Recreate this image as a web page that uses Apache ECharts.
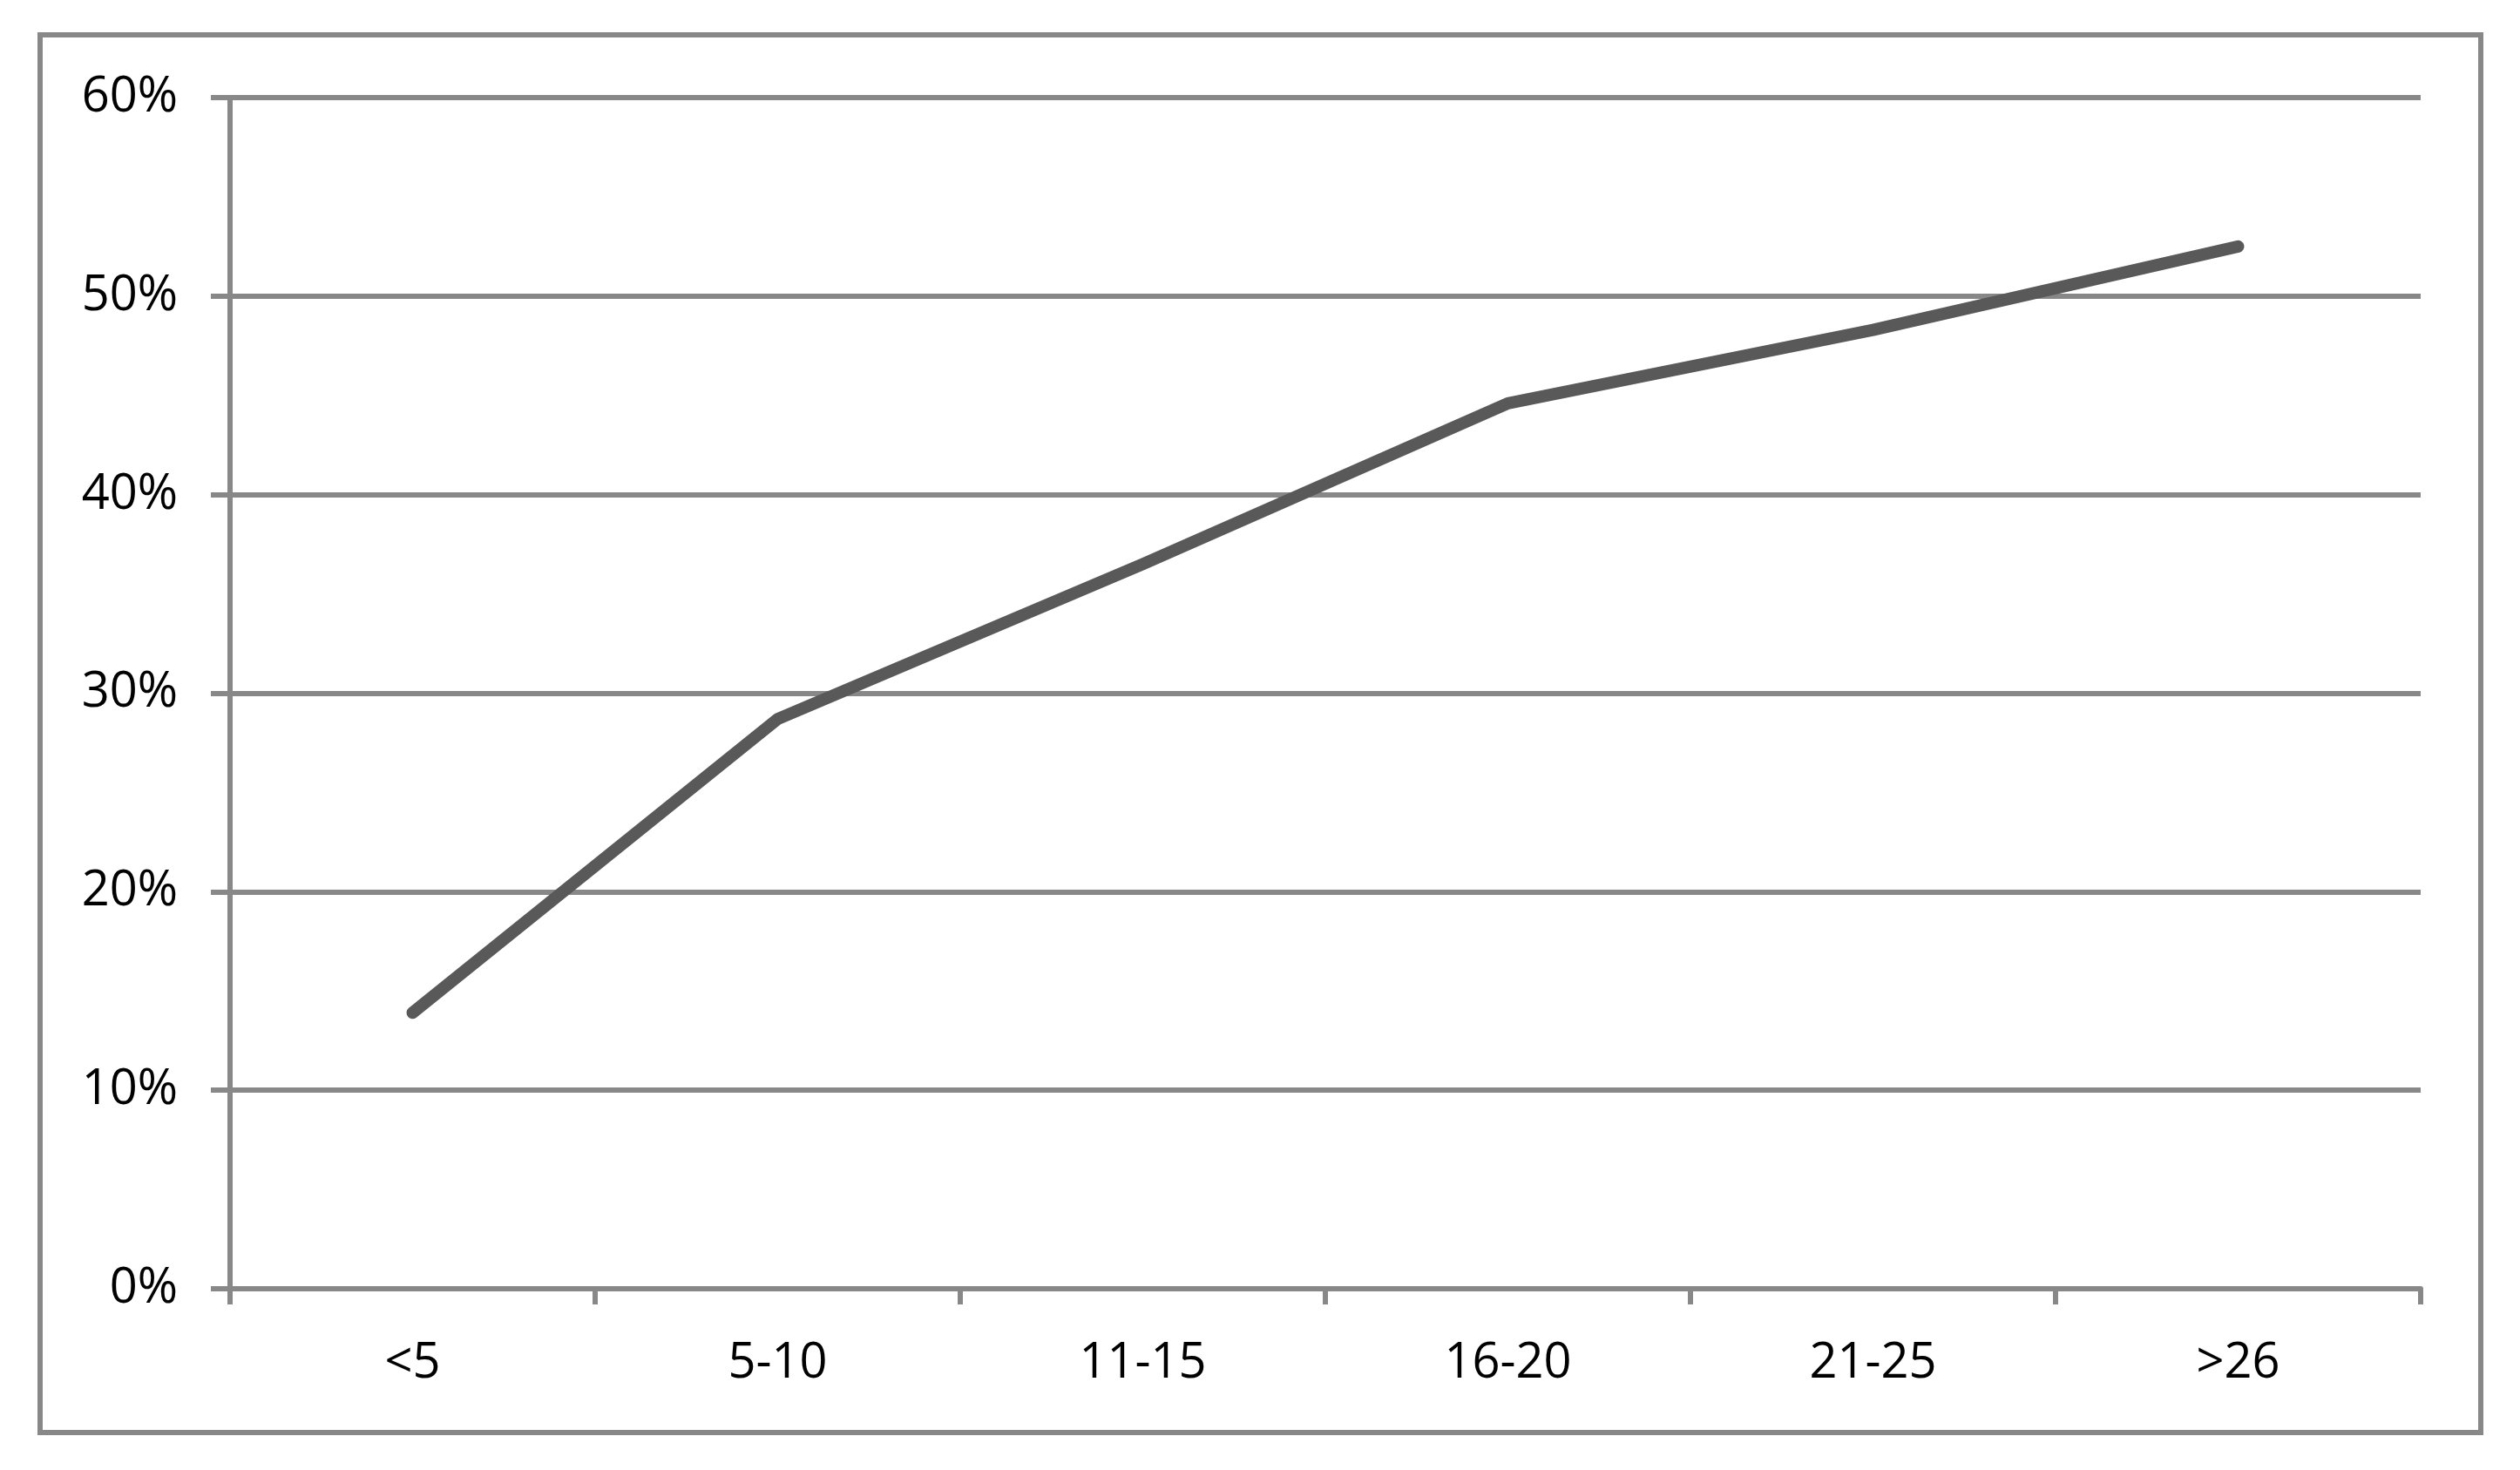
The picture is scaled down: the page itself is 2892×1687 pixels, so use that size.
<!DOCTYPE html>
<html>
<head>
<meta charset="utf-8">
<title>Line chart</title>
<script src="https://cdn.jsdelivr.net/npm/echarts@6/dist/echarts.min.js"></script>
<style>
  html, body {
    margin: 0;
    padding: 0;
    background: #fff;
  }
  #chart {
    width: 2892px;
    height: 1687px;
  }
</style>
</head>
<body>
<div id="chart"></div>
<script>
// data
const categories = ['<5', '5-10', '11-15', '16-20', '21-25', '>26']
const values = [13.9, 28.7, 36.5, 44.6, 48.3, 52.5]
const yTicks = [0, 10, 20, 30, 40, 50, 60]

const gridColor = '#888888'
const lineColor = '#595959'
const font = '"Open Sans", "Liberation Sans", sans-serif'

const chart = echarts.init(document.getElementById('chart'))

chart.setOption({
  animation: false,
  backgroundColor: '#fff',
  graphic: [
    {
      type: 'rect',
      shape: { x: 46, y: 40, width: 2801, height: 1604 },
      style: { fill: null, stroke: gridColor, lineWidth: 6 },
      silent: true
    }
  ],
  grid: {
    left: 264,
    right: 114,
    top: 112,
    bottom: 208
  },
  xAxis: {
    type: 'category',
    data: categories,
    boundaryGap: true,
    axisLine: { show: true, lineStyle: { color: gridColor, width: 6 } },
    axisTick: { show: true, length: 18, lineStyle: { color: gridColor, width: 6 } },
    axisLabel: {
      margin: 58,
      fontSize: 56,
      fontFamily: font,
      color: '#000'
    },
    splitLine: { show: false }
  },
  yAxis: {
    type: 'value',
    min: yTicks[0],
    max: yTicks[yTicks.length - 1],
    interval: 10,
    axisLine: { show: true, lineStyle: { color: gridColor, width: 6 } },
    axisTick: { show: true, length: 22, lineStyle: { color: gridColor, width: 6 } },
    axisLabel: {
      margin: 60,
      fontSize: 56,
      fontFamily: font,
      color: '#000',
      formatter: '{value}%'
    },
    splitLine: { show: true, lineStyle: { color: gridColor, width: 6 } }
  },
  series: [
    {
      type: 'line',
      data: values,
      symbol: 'none',
      smooth: false,
      lineStyle: {
        color: lineColor,
        width: 14,
        cap: 'round',
        join: 'round'
      }
    }
  ]
})
</script>
</body>
</html>
